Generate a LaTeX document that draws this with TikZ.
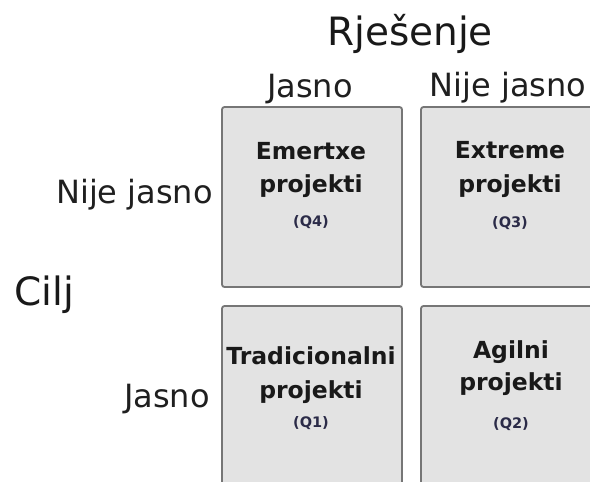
\documentclass[tikz,border=0pt]{standalone}
\usepackage{fontspec}
\setmainfont{DejaVu Sans}
\begin{document}
\begin{tikzpicture}[x=1pt,y=-1pt,
  quad/.style={draw=boxline,fill=boxfill,line width=1.8pt,rounded corners=2.5pt,
    minimum width=180pt,minimum height=180pt,inner sep=0pt},
  qtitle/.style={anchor=base,font=\fontsize{23.5}{26}\selectfont\bfseries,text=black!90,inner sep=0pt},
  qcode/.style={anchor=base,font=\fontsize{14.5}{16}\selectfont\bfseries,text=codecol,inner sep=0pt},
  axlab/.style={anchor=base,font=\fontsize{32}{36}\selectfont,text=black!88,inner sep=0pt},
  bigl/.style={anchor=base,font=\fontsize{39}{44}\selectfont,text=black!90,inner sep=0pt}]
\definecolor{boxline}{HTML}{767676}
\definecolor{boxfill}{HTML}{E3E3E3}
\definecolor{codecol}{HTML}{2B2B48}
\useasboundingbox (0,0) rectangle (590,482);
\clip (0,0) rectangle (590,482);
% boxes
\node[quad] (q4) at (312,197) {};
\node[quad] (q3) at (511,197) {};
\node[quad] (q1) at (312,396) {};
\node[quad] (q2) at (511,396) {};
% box texts
\node[qtitle] (q4a) at (311,159) {Emertxe};
\node[qtitle] (q4b) at (311,192) {projekti};
\node[qcode]  (q4c) at (311,226) {(Q4)};
\node[qtitle] (q3a) at (510,158) {Extreme};
\node[qtitle] (q3b) at (510,192) {projekti};
\node[qcode]  (q3c) at (510,227) {(Q3)};
\node[qtitle] (q1a) at (311,364) {Tradicionalni};
\node[qtitle] (q1b) at (311,398) {projekti};
\node[qcode]  (q1c) at (311,427) {(Q1)};
\node[qtitle] (q2a) at (511,358) {Agilni};
\node[qtitle] (q2b) at (511,390) {projekti};
\node[qcode]  (q2c) at (511,428) {(Q2)};
% axis labels
\node[bigl] (title) at (410,45) {Rješenje};
\node[axlab] (cj) at (310,97) {Jasno};
\node[axlab] (cn) at (508,96) {Nije jasno};
\node[axlab,anchor=base east] (rn) at (213,203) {Nije jasno};
\node[axlab,anchor=base east] (rj) at (210,407) {Jasno};
\node[bigl,anchor=base west] (cilj) at (14,305) {Cilj};
\end{tikzpicture}
\end{document}
